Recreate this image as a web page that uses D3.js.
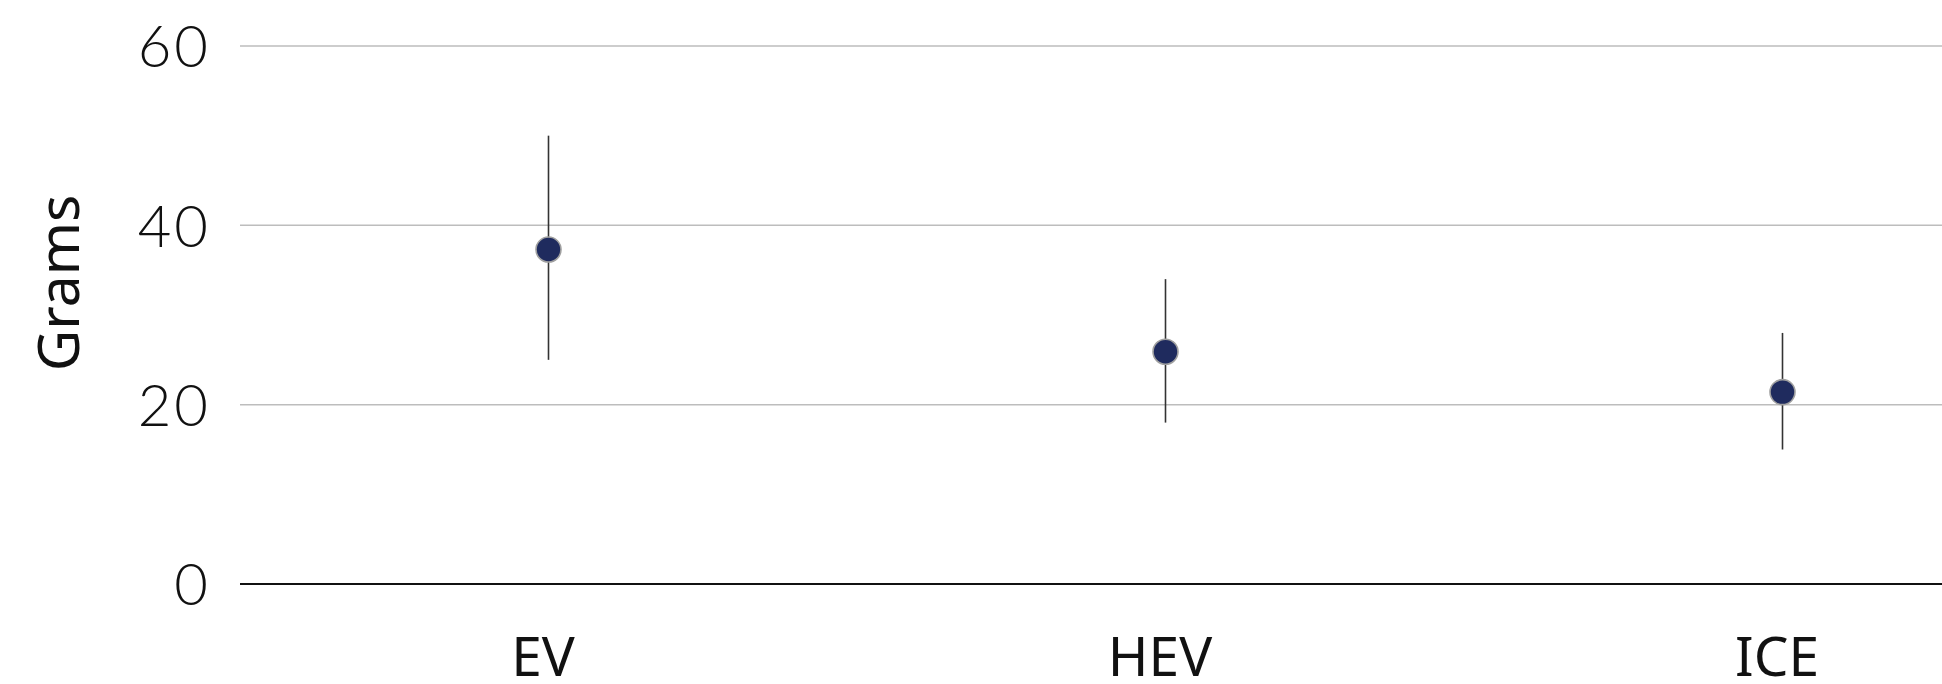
<!DOCTYPE html>
<html>
<head>
<meta charset="utf-8">
<script src="https://cdn.jsdelivr.net/npm/d3@7"></script>
<style>
  body { margin: 0; background: #fff; overflow: hidden; }
  svg { display: block; }
</style>
</head>
<body>
<div id="chart"></div>
<script>
let width = 1942;
let height = 684;
let margin = ({top: 46, right: -149, bottom: 100, left: 240});

// Data
let categories = ["EV", "HEV", "ICE"];
let means = [37.3, 25.9, 21.4];
let lows = [25, 18, 15];
let highs = [50, 34, 28];
let yTicks = [0, 20, 40, 60];

let data = categories.map((c, i) => ({cat: c, mean: means[i], low: lows[i], high: highs[i]}));

let svg = d3.select("#chart")
    .append("svg")
    .attr("width", width)
    .attr("height", height);

let xScale = d3.scalePoint()
    .domain(categories)
    .range([margin.left, width - margin.right])
    .padding(0.5);

let yScale = d3.scaleLinear()
    .domain([0, 60])
    .range([height - margin.bottom, margin.top]);

// Gridlines
svg.append("g")
    .selectAll("line")
    .data(yTicks)
    .join("line")
    .attr("x1", margin.left)
    .attr("x2", width)
    .attr("y1", d => yScale(d))
    .attr("y2", d => yScale(d))
    .attr("stroke", d => d === 0 ? "#111" : "#bdbdbd")
    .attr("stroke-width", d => d === 0 ? 2 : 1.5);

// Y axis labels
let yAxis = d3.axisLeft(yScale).tickValues(yTicks).tickSize(0).tickPadding(29);
svg.append("g")
    .attr("transform", "translate(" + margin.left + ",0)")
    .call(yAxis)
    .call(g => g.select(".domain").remove())
    .selectAll("text")
    .attr("font-family", "Lato, 'DejaVu Sans', sans-serif")
    .attr("font-weight", 300)
    .attr("font-size", 58)
    .attr("letter-spacing", 3)
    .attr("fill", "#111")
    .attr("dy", "0.36em");

// X axis labels
let xAxis = d3.axisBottom(xScale).tickSize(0).tickPadding(53);
svg.append("g")
    .attr("transform", "translate(0," + yScale(0) + ")")
    .call(xAxis)
    .call(g => g.select(".domain").remove())
    .selectAll("text")
    .attr("font-family", "'Noto Sans', sans-serif")
    .attr("font-size", 55)
    .attr("fill", "#111")
    .attr("dx", -6);

// Axis title
svg.append("text")
    .attr("transform", "translate(79," + 283 + ") rotate(-90)")
    .attr("text-anchor", "middle")
    .attr("font-family", "'Noto Sans', sans-serif")
    .attr("font-size", 57)
    .attr("fill", "#111")
    .text("Grams");

// Error bars
svg.append("g")
    .selectAll("line")
    .data(data)
    .join("line")
    .attr("x1", d => xScale(d.cat))
    .attr("x2", d => xScale(d.cat))
    .attr("y1", d => yScale(d.low))
    .attr("y2", d => yScale(d.high))
    .attr("stroke", "#333")
    .attr("stroke-width", 1.6);

// Mean points
svg.append("g")
    .selectAll("circle")
    .data(data)
    .join("circle")
    .attr("cx", d => xScale(d.cat))
    .attr("cy", d => yScale(d.mean))
    .attr("r", 12.5)
    .attr("fill", "#1f2b5e")
    .attr("stroke", "#a0a0a0")
    .attr("stroke-width", 1.6);
</script>
</body>
</html>
